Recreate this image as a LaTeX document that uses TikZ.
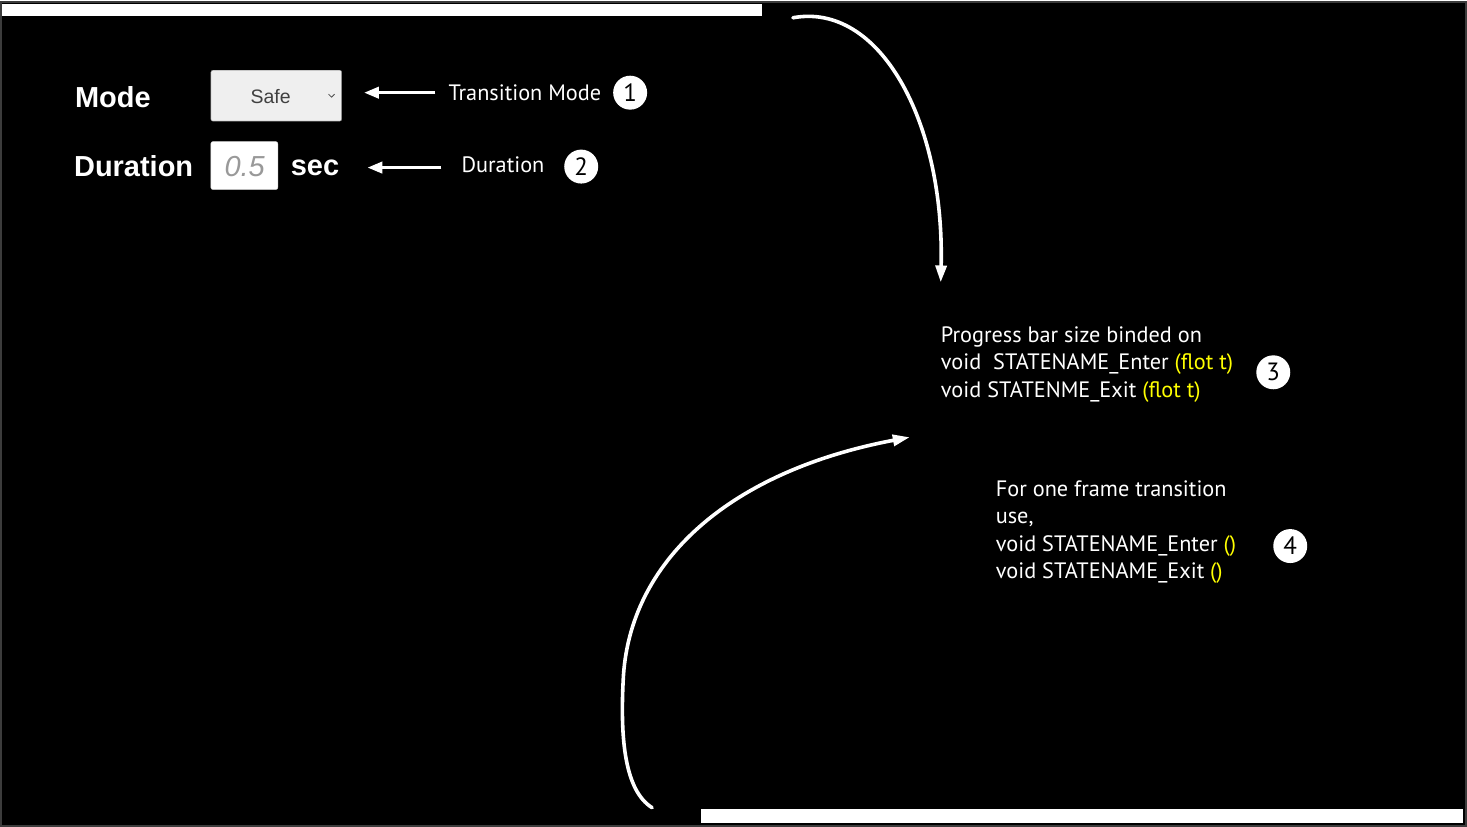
\documentclass[tikz,border=0pt]{standalone}
\usepackage{fontspec}
\setmainfont{PT Sans}
\newfontfamily\uifont{Liberation Sans}
\usetikzlibrary{arrows.meta,positioning}
\definecolor{hiyellow}{RGB}{255,255,0}
\definecolor{boxgray}{RGB}{239,239,239}
\definecolor{edgegray}{RGB}{60,60,60}
\tikzset{
  note/.style={text=white,font=\fontsize{22.3}{27.5}\selectfont,inner sep=0pt,align=left},
  badge/.style={circle,fill=white,minimum size=34pt,inner sep=0pt,font=\fontsize{25}{25}\selectfont},
  field/.style={text=white,font=\uifont\bfseries\fontsize{29}{29}\selectfont,inner sep=0pt},
  arr/.style={white,line width=3.6pt,-{Triangle[length=15pt,width=11pt]}},
  curve/.style={white,line width=3.6pt,line cap=round,-{Triangle[length=17pt,width=11pt]}}
}
\begin{document}
\begin{tikzpicture}[x=1pt,y=-1pt]
\draw[fill=black,draw=edgegray,line width=2pt] (0,0) rectangle (1467,825);
\fill[white] (1,2) rectangle (762,14);
\fill[white] (701,808) rectangle (1464,822);

\node[field,anchor=west] (mode) at (74,95) {Mode};
\node[draw=gray,fill=boxgray,rounded corners=2pt,minimum width=131pt,minimum height=51pt,anchor=west] (safe) at (210,94) {};
\node[text=black!75,font=\uifont\fontsize{19.5}{20}\selectfont] (safetxt) at (270,95) {Safe};
\draw[black!70,line width=0.8pt] (328,92.5) -- (331,95.5) -- (334,92.5);
\node[note,anchor=west] (tmode) at (448,91) {Transition Mode};
\node[badge] (b1) at (630,91) {1};
\draw[arr,shorten <=13pt,shorten >=22pt] (tmode.west) -- (tmode.west -| safe.east);

\node[field,anchor=west] (dur) at (73,165) {Duration};
\node[draw=black!15,fill=white,rounded corners=2pt,minimum width=67pt,minimum height=48pt,anchor=west] (durbox) at (210,164) {};
\node[text=black!40,font=\uifont\itshape\fontsize{29}{29}\selectfont] (durval) at (244,165) {0.5};
\node[field,anchor=west] (sec) at (290,166) {sec};
\node[note,anchor=west] (dlabel) at (461,163) {Duration};
\node[badge] (b2) at (581,165) {2};
\draw[arr,shorten <=20pt,shorten >=28pt] (dlabel.west |- sec.east) -- (sec.east);

\node[note,anchor=north west] (prog) at (941,325) {Progress bar size binded on\\void\ \ STATENAME\_Enter {\color{hiyellow}(flot t)}\\void STATENME\_Exit {\color{hiyellow}(flot t)}};
\node[badge] (b3) at (1274,371) {3};
\node[note,anchor=north west] (oneframe) at (996,479) {For one frame transition\\use,\\void STATENAME\_Enter {\color{hiyellow}()}\\void STATENAME\_Exit {\color{hiyellow}()}};
\node[badge] (b4) at (1291,545) {4};

\coordinate (topstart) at (793,16);
\coordinate (topend) at (941,281);
\draw[curve] (topstart) .. controls (880,0) and (945,120) .. (topend);
\coordinate (botstart) at (652,807);
\coordinate (botmid) at (623,680);
\coordinate (botend) at (910,436);
\draw[curve] (botstart) .. controls (625,790) and (620,740) .. (botmid) .. controls (628,560) and (730,470) .. (botend);
\end{tikzpicture}
\end{document}
